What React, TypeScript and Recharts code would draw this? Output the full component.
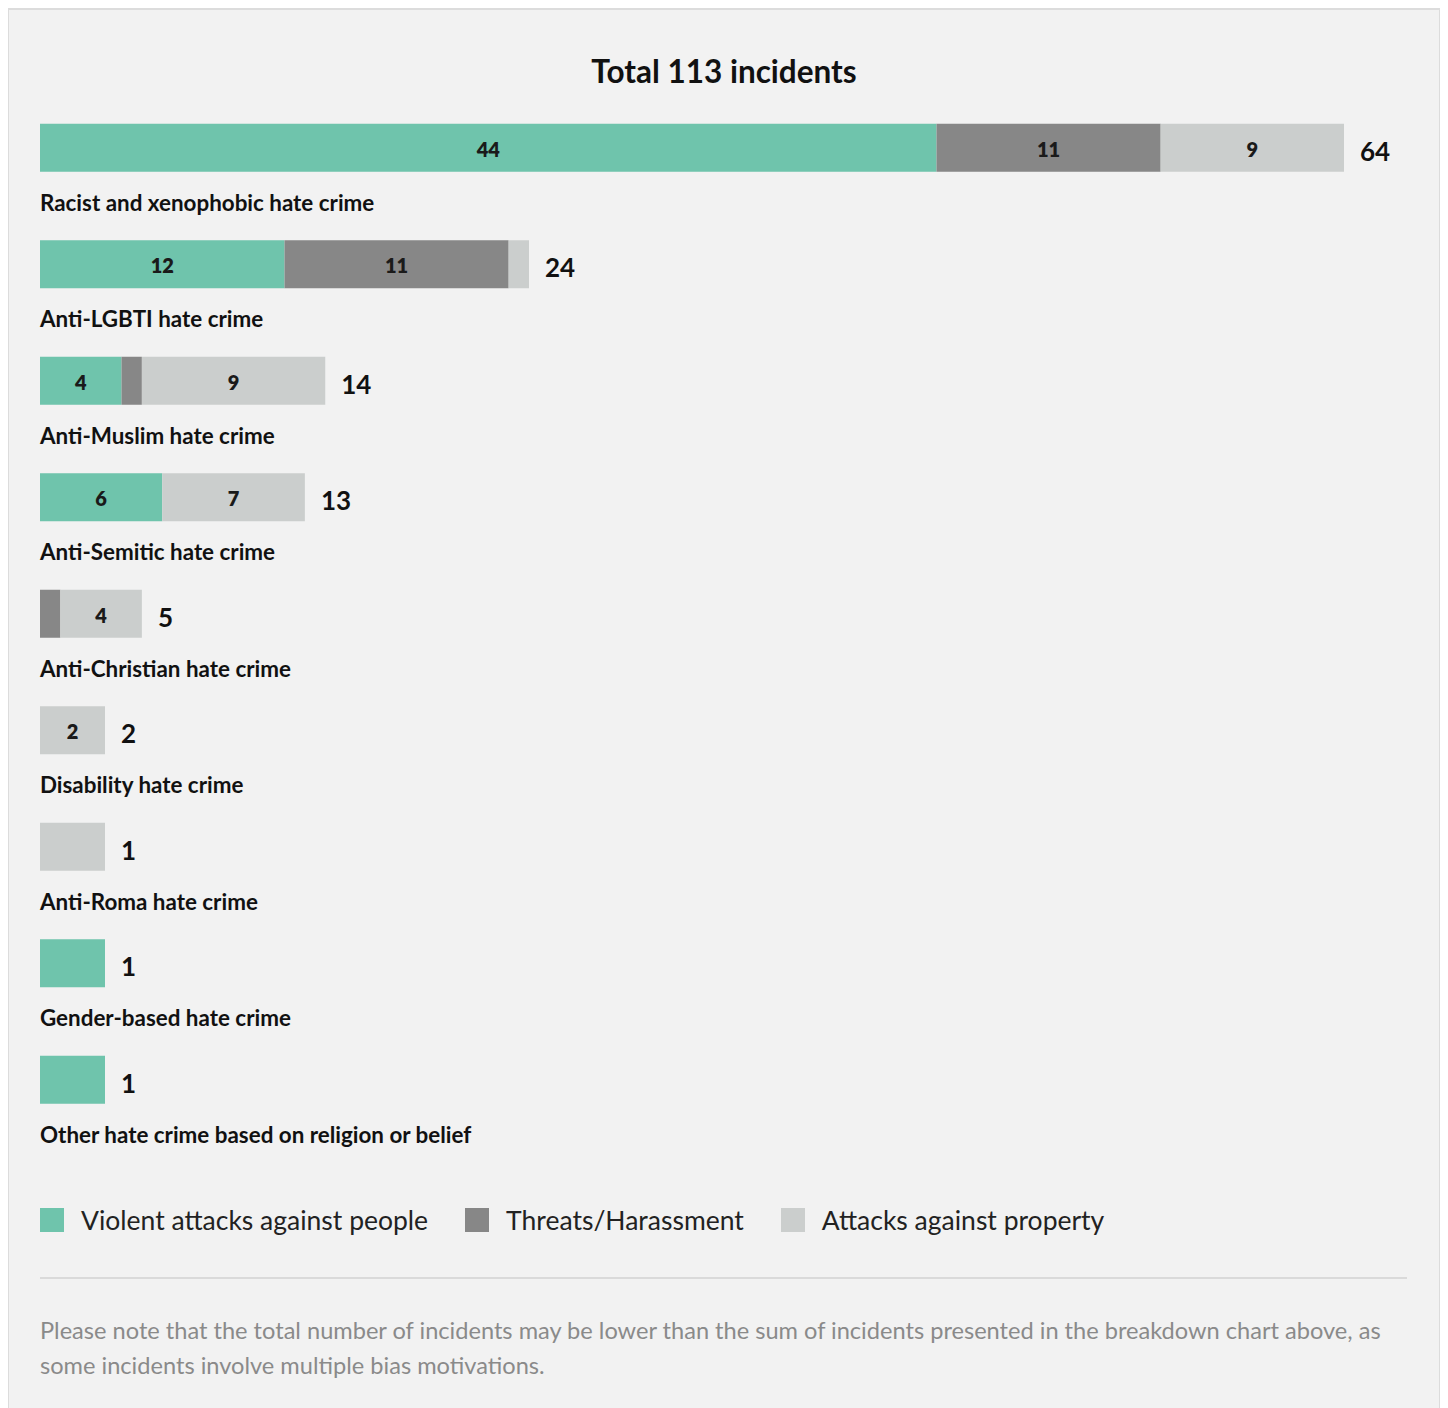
import React from 'react';
import { BarChart, Bar, XAxis, YAxis } from 'recharts';

const CATEGORIES = [
  'Racist and xenophobic hate crime',
  'Anti-LGBTI hate crime',
  'Anti-Muslim hate crime',
  'Anti-Semitic hate crime',
  'Anti-Christian hate crime',
  'Disability hate crime',
  'Anti-Roma hate crime',
  'Gender-based hate crime',
  'Other hate crime based on religion or belief',
];
const VIOLENT = [44, 12, 4, 6, 0, 0, 0, 1, 1];
const THREATS = [11, 11, 1, 0, 1, 0, 0, 0, 0];
const PROPERTY = [9, 1, 9, 7, 4, 2, 1, 0, 0];
const TOTALS = [64, 24, 14, 13, 5, 2, 1, 1, 1];

const SERIES = [
  { key: 'violent', name: 'Violent attacks against people', color: '#6fc4ac' },
  { key: 'threats', name: 'Threats/Harassment', color: '#878787' },
  { key: 'property', name: 'Attacks against property', color: '#cbcecd' },
];
const KEYS = SERIES.map(s => s.key);

const data = CATEGORIES.map((name, i) => ({
  name,
  violent: VIOLENT[i],
  threats: THREATS[i],
  property: PROPERTY[i],
  total: TOTALS[i],
}));

const FONT = 'Lato, "Noto Sans", sans-serif';
const MARGIN = { top: 9.75, right: 85, bottom: 10.75, left: 30 };
const MIN_BAR = 65;

const makeShape = (key: string, color: string) => (props: any) => {
  const { x, y, width, height, payload, background } = props;
  const v = payload[key];
  if (!v) return null;
  const idx = KEYS.indexOf(key);
  const isLast = KEYS.slice(idx + 1).every(k => !payload[k]);
  const left = background && typeof background.x === 'number' ? background.x : MARGIN.left + 1;
  const w = isLast ? Math.max(width, left + MIN_BAR - x) : width;
  const cy = y + height / 2;
  return (
    <g>
      <rect x={x} y={y} width={w} height={height} fill={color} />
      {v >= 2 && (
        <text x={x + w / 2} y={cy + 1} textAnchor="middle" dominantBaseline="central"
          fontFamily={FONT} fontWeight={800} fontSize={20} fill="#1a1a1a">
          {v}
        </text>
      )}
      {isLast && (
        <text x={x + w + 16} y={cy + 3} textAnchor="start" dominantBaseline="central"
          fontFamily={FONT} fontWeight={700} fontSize={26} fill="#111">
          {payload.total}
        </text>
      )}
    </g>
  );
};

const CategoryTick = (props: any) => {
  const { x, y, payload } = props;
  return (
    <text x={x} y={y + 54} textAnchor="start" dominantBaseline="central"
      fontFamily={FONT} fontWeight={700} fontSize={22.4} fill="#111">
      {payload.value}
    </text>
  );
};

export default function App() {
  return (
    <div style={{
      position: 'relative', marginLeft: -1, width: 1434, height: 1400, boxSizing: 'border-box',
      border: '2px solid #dcdcdc', borderBottom: 'none', background: '#f2f2f2', fontFamily: FONT,
    }}>
      <div style={{
        position: 'absolute', left: 0, width: 1430, top: 43, textAlign: 'center',
        fontSize: 31.5, fontWeight: 700, color: '#111', lineHeight: '36px',
      }}>
        Total 113 incidents
      </div>
      <div style={{ position: 'absolute', left: 0, top: 70 }}>
        <BarChart width={1420} height={1069} data={data} layout="vertical" margin={MARGIN} barSize={48}>
          <XAxis type="number" hide domain={[0, Math.max(...TOTALS)]} />
          <YAxis type="category" dataKey="name" width={1} axisLine={false} tickLine={false}
            tickSize={0} tickMargin={0} interval={0} tick={<CategoryTick />} />
          {SERIES.map(s => (
            <Bar key={s.key} dataKey={s.key} name={s.name} stackId="a" fill={s.color}
              isAnimationActive={false} shape={makeShape(s.key, s.color)} />
          ))}
        </BarChart>
      </div>
      <div style={{
        position: 'absolute', left: 31, top: 1198, display: 'flex', alignItems: 'center',
        fontSize: 26.5, color: '#222', lineHeight: '24px',
      }}>
        {SERIES.map(s => (
          <div key={s.key} style={{ display: 'flex', alignItems: 'center', marginRight: 37 }}>
            <span style={{ width: 24, height: 24, background: s.color, display: 'inline-block', marginRight: 17 }} />
            <span>{s.name}</span>
          </div>
        ))}
      </div>
      <div style={{
        position: 'absolute', left: 31, top: 1267, width: 1367, height: 2, background: '#dadada',
      }} />
      <div style={{
        position: 'absolute', left: 31, top: 1303, width: 1400, fontSize: 23.6, lineHeight: '35px', color: '#8a8a8a',
        whiteSpace: 'nowrap',
      }}>
        Please note that the total number of incidents may be lower than the sum of incidents presented in the breakdown chart above, as<br />
        some incidents involve multiple bias motivations.
      </div>
    </div>
  );
}
